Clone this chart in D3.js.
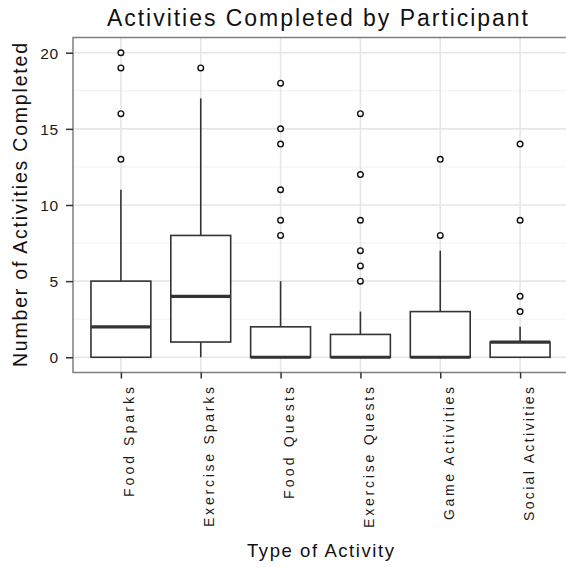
<!DOCTYPE html>
<html>
<head>
<meta charset="utf-8">
<script src="https://cdn.jsdelivr.net/npm/d3@7"></script>
<style>
  html, body { margin: 0; padding: 0; background: #fff; }
  svg { display: block; font-family: "Liberation Sans", Arial, sans-serif; }
</style>
</head>
<body>
<svg id="chart" width="566" height="567"></svg>
<script>
const categories = ["Food Sparks", "Exercise Sparks", "Food Quests", "Exercise Quests", "Game Activities", "Social Activities"];
const lowerWhisker = [0, 0, 0, 0, 0, 0];
const q1 = [0, 1, 0, 0, 0, 0];
const median = [2, 4, 0, 0, 0, 1];
const q3 = [5, 8, 2, 1.5, 3, 1];
const upperWhisker = [11, 17, 5, 3, 7, 2];
const outliers = [[13, 16, 19, 20], [19], [8, 9, 11, 14, 15, 18], [5, 6, 7, 9, 12, 16], [8, 13], [3, 4, 9, 14]];
const yTicks = [0, 5, 10, 15, 20];
const yMinor = [2.5, 7.5, 12.5, 17.5];
// measured label lengths (the original renderer spaces glyphs widely)
const xLabelLengths = [110, 140, 112, 141, 133, 134];

const svg = d3.select("#chart");
const panel = { left: 73, right: 568, top: 37.5, bottom: 372.5 };

const x = d3.scaleLinear().domain([0.4, categories.length + 0.6]).range([panel.left, panel.right]);
const y = d3.scaleLinear().domain([-1, 21]).range([panel.bottom, panel.top]);
const step = x(2) - x(1);
const boxW = step * 0.75;

// grid
const grid = svg.append("g");
grid.selectAll(".ymin").data(yMinor).join("line")
  .attr("x1", panel.left).attr("x2", panel.right)
  .attr("y1", d => y(d)).attr("y2", d => y(d))
  .attr("stroke", "#f2f2f2").attr("stroke-width", 1);
grid.selectAll(".ymaj").data(yTicks).join("line")
  .attr("x1", panel.left).attr("x2", panel.right)
  .attr("y1", d => y(d)).attr("y2", d => y(d))
  .attr("stroke", "#e6e6e6").attr("stroke-width", 1.6);
grid.selectAll(".xmaj").data(categories).join("line")
  .attr("x1", (d, i) => x(i + 1)).attr("x2", (d, i) => x(i + 1))
  .attr("y1", panel.top).attr("y2", panel.bottom)
  .attr("stroke", "#e6e6e6").attr("stroke-width", 1.6);

// boxes
const col = "#333333";
const g = svg.append("g");
categories.forEach((c, i) => {
  const cx = x(i + 1);
  const bg = g.append("g");
  bg.append("line").attr("x1", cx).attr("x2", cx)
    .attr("y1", y(q3[i])).attr("y2", y(upperWhisker[i]))
    .attr("stroke", col).attr("stroke-width", 1.6);
  bg.append("line").attr("x1", cx).attr("x2", cx)
    .attr("y1", y(q1[i])).attr("y2", y(lowerWhisker[i]))
    .attr("stroke", col).attr("stroke-width", 1.6);
  bg.append("rect").attr("x", cx - boxW / 2).attr("width", boxW)
    .attr("y", y(q3[i])).attr("height", Math.max(0, y(q1[i]) - y(q3[i])))
    .attr("fill", "#fff").attr("stroke", col).attr("stroke-width", 1.6);
  bg.append("line").attr("x1", cx - boxW / 2).attr("x2", cx + boxW / 2)
    .attr("y1", y(median[i])).attr("y2", y(median[i]))
    .attr("stroke", col).attr("stroke-width", 3.2);
  bg.selectAll("circle").data(outliers[i]).join("circle")
    .attr("cx", cx).attr("cy", d => y(d)).attr("r", 2.8)
    .attr("fill", "#fff").attr("stroke", "#111").attr("stroke-width", 1.4);
});

// panel border
svg.append("rect").attr("x", panel.left).attr("y", panel.top)
  .attr("width", panel.right - panel.left).attr("height", panel.bottom - panel.top)
  .attr("fill", "none").attr("stroke", "#7f7f7f").attr("stroke-width", 1.5);

// y axis
const yAxis = svg.append("g").attr("transform", `translate(${panel.left},0)`)
  .call(d3.axisLeft(y).tickValues(yTicks).tickSize(7).tickPadding(7).tickFormat(d3.format("d")));
yAxis.select(".domain").remove();
yAxis.selectAll(".tick line").attr("stroke", "#333").attr("stroke-width", 1.5);
yAxis.selectAll(".tick text").attr("fill", "#1a1a1a").style("font-size", "15.5px")
  .style("letter-spacing", "0.8px").attr("dy", "0.36em");

// x axis ticks
const xAxis = svg.append("g").attr("transform", `translate(0,${panel.bottom})`)
  .call(d3.axisBottom(x).tickValues(categories.map((c, i) => i + 1)).tickSize(6).tickFormat(""));
xAxis.select(".domain").remove();
xAxis.selectAll(".tick line").attr("stroke", "#333").attr("stroke-width", 1.5);

// x tick labels (rotated)
svg.append("g").selectAll("text").data(categories).join("text")
  .attr("transform", (d, i) => `translate(${x(i + 1) + 13.5},387) rotate(-90)`)
  .attr("text-anchor", "end")
  .attr("textLength", (d, i) => xLabelLengths[i])
  .attr("lengthAdjust", "spacing")
  .attr("fill", "#1a1a1a").style("font-size", "14px")
  .text(d => d);

// title
svg.append("text").attr("x", 107).attr("y", 26)
  .attr("textLength", 421).attr("lengthAdjust", "spacing")
  .attr("fill", "#111").style("font-size", "23px")
  .text("Activities Completed by Participant");

// axis titles
svg.append("text").attr("x", 247).attr("y", 557)
  .attr("textLength", 147).attr("lengthAdjust", "spacing")
  .attr("fill", "#111").style("font-size", "18.5px")
  .text("Type of Activity");

svg.append("text").attr("transform", "translate(27,367) rotate(-90)")
  .attr("textLength", 324).attr("lengthAdjust", "spacing")
  .attr("fill", "#111").style("font-size", "19.5px")
  .text("Number of Activities Completed");
</script>
</body>
</html>
